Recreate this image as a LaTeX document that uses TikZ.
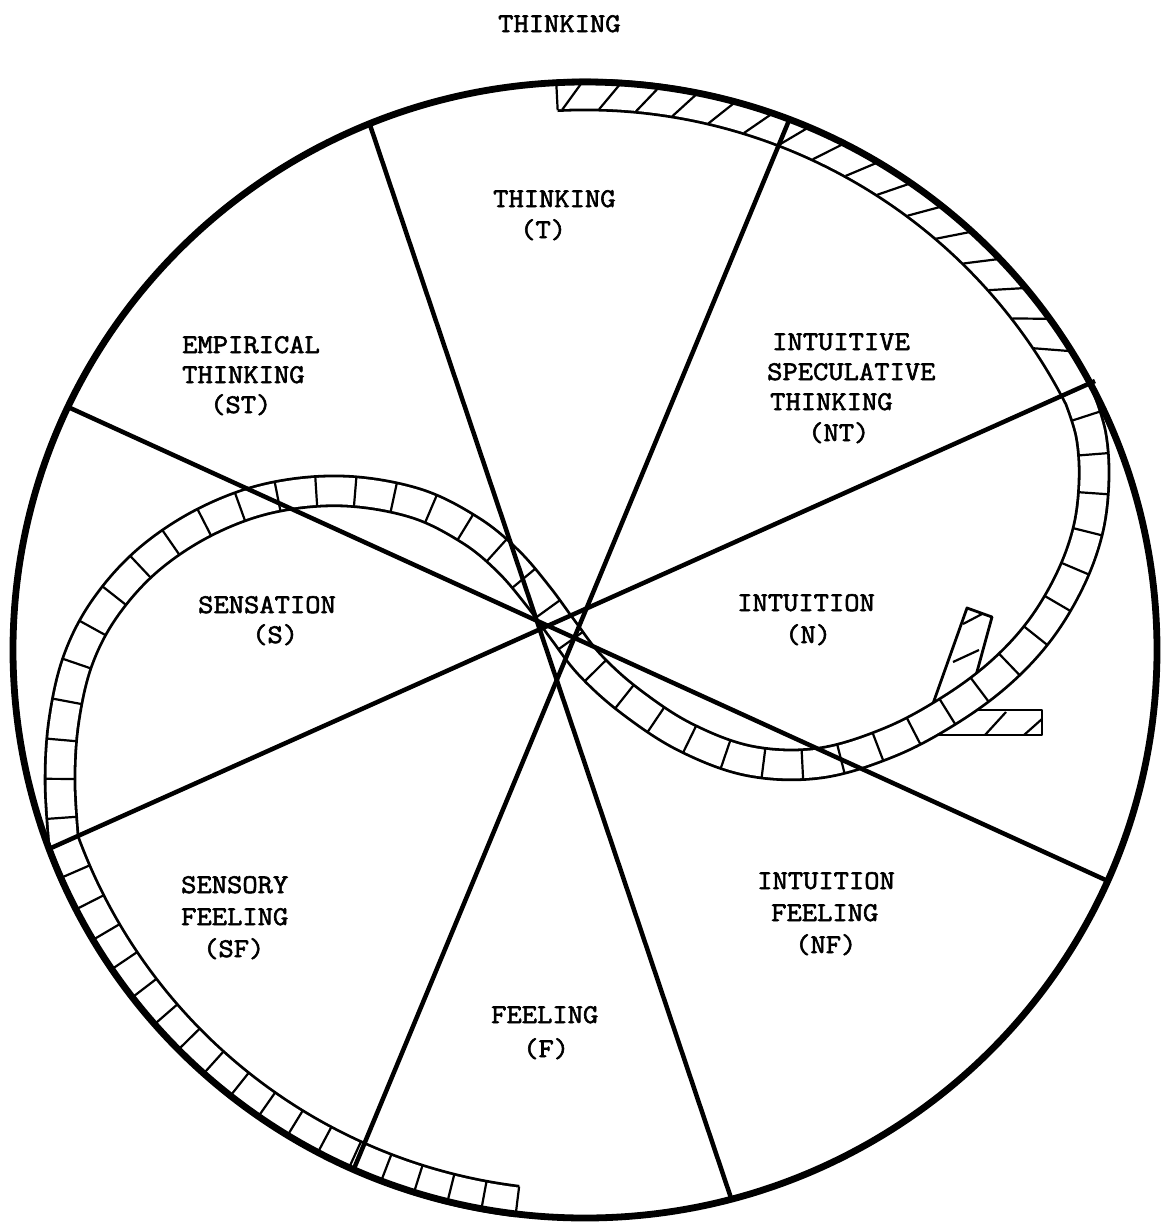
\documentclass[tikz,border=0pt]{standalone}
\usepackage{fontspec}
\newfontfamily\typew[FakeStretch=1.1,FakeBold=2.2]{Latin Modern Mono}
\usetikzlibrary{decorations.markings}
\begin{document}
\begin{tikzpicture}[x=1pt,y=-1pt,
  spoke/.style={line width=4.5pt},
  rim/.style={line width=6.8pt},
  band/.style={line width=2.8pt, line join=round, double=white, double distance=27pt},
  tick/.style={line width=2.2pt},
  lbl/.style={anchor=base west, inner sep=0pt, font=\typew\fontsize{27}{30}\selectfont}]
\useasboundingbox (0,0) rectangle (1161,1226);
\coordinate (C) at (585,650);
% barbs of the arrow
\draw[line width=2.8pt, line join=round] (930,712) -- (967,608) -- (992,617) -- (972,690);
\draw[tick] (963,624) -- (982,614);
\draw[tick] (953,662) -- (979,650);
\draw[line width=2.8pt, line join=round] (935,735) -- (1042,735) -- (1042,710) -- (975,710);
\draw[tick] (985,735) -- (1006,712);
\draw[tick] (1024,735) -- (1042,719);
% band
\draw[band] ([shift={(-92.9:555)}]C) arc[start angle=-92.9, end angle=-27, radius=555]
  -- plot[smooth, tension=0.6] coordinates {(1079.5,398) (1091,435) (1094,480) (1088,530) (1070,580) (1040,630) (1000,673) (950,710) (890,742) (820,763) (750,761) (685,737) (630,701) (590,665) (563,630) (538,596) (508,561) (470,530) (415,503) (343,491) (270,498) (205,522) (148,560) (105,608) (78,660) (64,720) (60,780) (63.5,840)}
  arc[start angle=160, end angle=97, radius=555];
\path[decorate, decoration={markings, mark=between positions 0.012 and 0.99 step 39pt with {\draw[tick] (0,-15) -- (0,15);}}]
  plot[smooth, tension=0.6] coordinates {(1079.5,398) (1091,435) (1094,480) (1088,530) (1070,580) (1040,630) (1000,673) (950,710) (890,742) (820,763) (750,761) (685,737) (630,701) (590,665) (563,630) (538,596) (508,561) (470,530) (415,503) (343,491) (270,498) (205,522) (148,560) (105,608) (78,660) (64,720) (60,780) (63.5,840)};
\begin{scope}[shift={(585,650)}]
  \draw[tick] (-92.9:540.5) -- (-92.9:569);
  \draw[tick] (97:540.5) -- (97:569);
  \foreach \a in {-91.3,-87.4,...,-29} \draw[tick] (\a-1.1:541) -- (\a+1.1:569);
  \foreach \a in {100.5,104,...,158} \draw[tick] (\a:541) -- (\a:569);
\end{scope}
% spokes
\coordinate (a1) at (369,122); \coordinate (a2) at (732,1201);
\coordinate (b1) at (790,118); \coordinate (b2) at (353,1171);
\coordinate (c1) at (68,407);  \coordinate (c2) at (1110,882);
\coordinate (d1) at (1095,381); \coordinate (d2) at (51,848);
\draw[spoke] (a1) -- (a2);
\draw[spoke] (b1) -- (b2);
\draw[spoke] (c1) -- (c2);
\draw[spoke] (d1) -- (d2);
% rim
\draw[rim] (C) ellipse[x radius=572, y radius=568];
% labels
\node[lbl] (title) at (498,32) {THINKING};
\node[lbl] (t1) at (493,207) {THINKING};
\node[lbl] (t2) at (520,238) {(T)};
\node[lbl] (st1) at (182,353) {EMPIRICAL};
\node[lbl] (st2) at (182,383) {THINKING};
\node[lbl] (st3) at (210,413) {(ST)};
\node[lbl] (nt1) at (772,350) {INTUITIVE};
\node[lbl] (nt2) at (767,380) {SPECULATIVE};
\node[lbl] (nt3) at (770,410) {THINKING};
\node[lbl] (nt4) at (808,441) {(NT)};
\node[lbl] (s1) at (198,613) {SENSATION};
\node[lbl] (s2) at (252,643) {(S)};
\node[lbl] (n1) at (737,611) {INTUITION};
\node[lbl] (n2) at (785,643) {(N)};
\node[lbl] (sf1) at (181,893) {SENSORY};
\node[lbl] (sf2) at (181,925) {FEELING};
\node[lbl] (sf3) at (203,957) {(SF)};
\node[lbl] (nf1) at (757,889) {INTUITION};
\node[lbl] (nf2) at (771,921) {FEELING};
\node[lbl] (nf3) at (795,953) {(NF)};
\node[lbl] (f1) at (491,1023) {FEELING};
\node[lbl] (f2) at (523,1057) {(F)};
\end{tikzpicture}
\end{document}
